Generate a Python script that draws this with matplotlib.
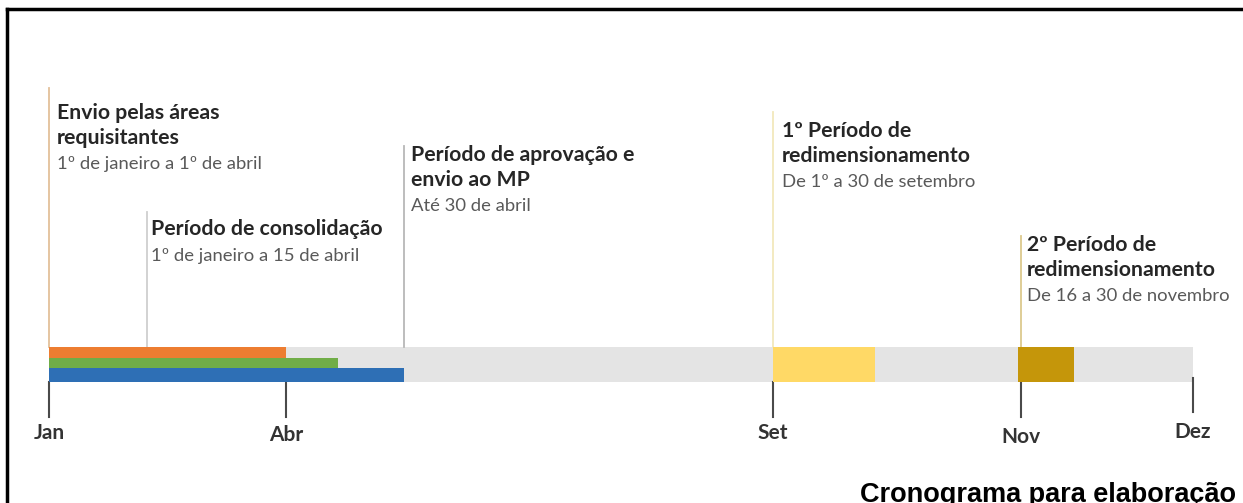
import matplotlib
matplotlib.use("Agg")
import matplotlib.pyplot as plt

# ---- data (timeline units: 0 = Jan, 100 = Dez, as drawn in the reference) ----
tick_labels = ["Jan", "Abr", "Set", "Nov", "Dez"]
tick_pos = [0, 20.7, 63.3, 85.0, 100]

stack_names = ["Envio pelas áreas requisitantes", "Período de consolidação",
               "Período de aprovação e envio ao MP"]
stack_start = [0, 0, 0]
stack_end = [20.7, 25.3, 31.0]

redim_names = ["1º Período de redimensionamento", "2º Período de redimensionamento"]
redim_start = [63.3, 84.7]
redim_end = [72.2, 89.6]

timeline_start = 0
timeline_end = 100

headings = [["Envio pelas áreas", "requisitantes"],
            ["Período de consolidação"],
            ["Período de aprovação e", "envio ao MP"],
            ["1º Período de", "redimensionamento"],
            ["2º Período de", "redimensionamento"]]
subtitles = ["1º de janeiro a 1º de abril",
             "1º de janeiro a 15 de abril",
             "Até 30 de abril",
             "De 1º a 30 de setembro",
             "De 16 a 30 de novembro"]
marker_pos = [0, 8.6, 31.0, 63.3, 85.0]

title = "Cronograma para elaboração"

# ---- styling ----
W, H = 1243, 503
fig = plt.figure(figsize=(W / 100, H / 100), dpi=100)
ax = fig.add_axes([0, 0, 1, 1])
px_per_unit = 11.44
x0 = 49
ax.set_xlim(-x0 / px_per_unit, (W - x0) / px_per_unit)
ax.set_ylim(H, 0)
ax.axis("off")

FONT = "Lato"
head_color = "#262626"
sub_color = "#595959"

# background gray track
ax.barh(364.5, timeline_end - timeline_start, left=timeline_start, height=35,
        color="#E4E4E4", zorder=1)

# stacked colored bars
stack_colors = ["#ED7D31", "#70AD47", "#2E6FB5"]
stack_y = [352.3, 362.8, 375.0]
stack_h = [10.6, 10.4, 14.0]
for s, e, c, y, h in zip(stack_start, stack_end, stack_colors, stack_y, stack_h):
    ax.barh(y, e - s, left=s, height=h, color=c, zorder=3)

# redimensionamento bars
redim_colors = ["#FFD966", "#C5960A"]
for s, e, c in zip(redim_start, redim_end, redim_colors):
    ax.barh(364.5, e - s, left=s, height=35, color=c, zorder=3)

# connector lines from labels down to bar
marker_colors = ["#E3C09A", "#CFCFCF", "#B8B8B8", "#F2E8BC", "#DCC98E"]
marker_top = [88, 212, 146, 112, 236]
for xp, c, t in zip(marker_pos, marker_colors, marker_top):
    ax.plot([xp, xp], [t, 347], color=c, lw=1.3, zorder=2)

# ticks below the bar
tick_top = [382, 382, 382, 382, 378]
tick_bot = [417, 417, 417, 417, 412]
tick_label_y = [433, 435, 433, 437, 432]
for xp, t, b, lab, ly in zip(tick_pos, tick_top, tick_bot, tick_labels, tick_label_y):
    ax.plot([xp, xp], [t, b], color="#4A4A4A", lw=1.5, zorder=2)
    ax.text(xp, ly, lab, ha="center", va="center", fontsize=15,
            fontweight="bold", family=FONT, color="#333333")

# annotation texts
text_x_px = [57, 151, 411, 782, 1027]
text_y_px = [113, 229, 155, 131, 245]
line_h = 24.5
for hx, hy, hl, sub in zip(text_x_px, text_y_px, headings, subtitles):
    xx = (hx - x0) / px_per_unit
    for i, line in enumerate(hl):
        ax.text(xx, hy + i * line_h, line, ha="left", va="center",
                fontsize=15.3, fontweight="bold", family=FONT, color=head_color)
    ax.text(xx, hy + len(hl) * line_h + 2, sub, ha="left", va="center",
            fontsize=13.3, family=FONT, color=sub_color)

# title at bottom right (clipped at bottom edge as in the reference)
ax.text((1236 - x0) / px_per_unit, 502, title, ha="right", va="baseline",
        fontsize=19.5, fontweight="bold", family="Liberation Sans", color="black",
        clip_on=False)

# frame lines (top and left)
fig.add_artist(plt.Line2D([7 / W, 1], [1 - 9 / H, 1 - 9 / H], color="black",
                          lw=2.5, transform=fig.transFigure))
fig.add_artist(plt.Line2D([7 / W, 7 / W], [0, 1 - 9 / H], color="black",
                          lw=2.5, transform=fig.transFigure))

fig.savefig("out.png", dpi=100)
